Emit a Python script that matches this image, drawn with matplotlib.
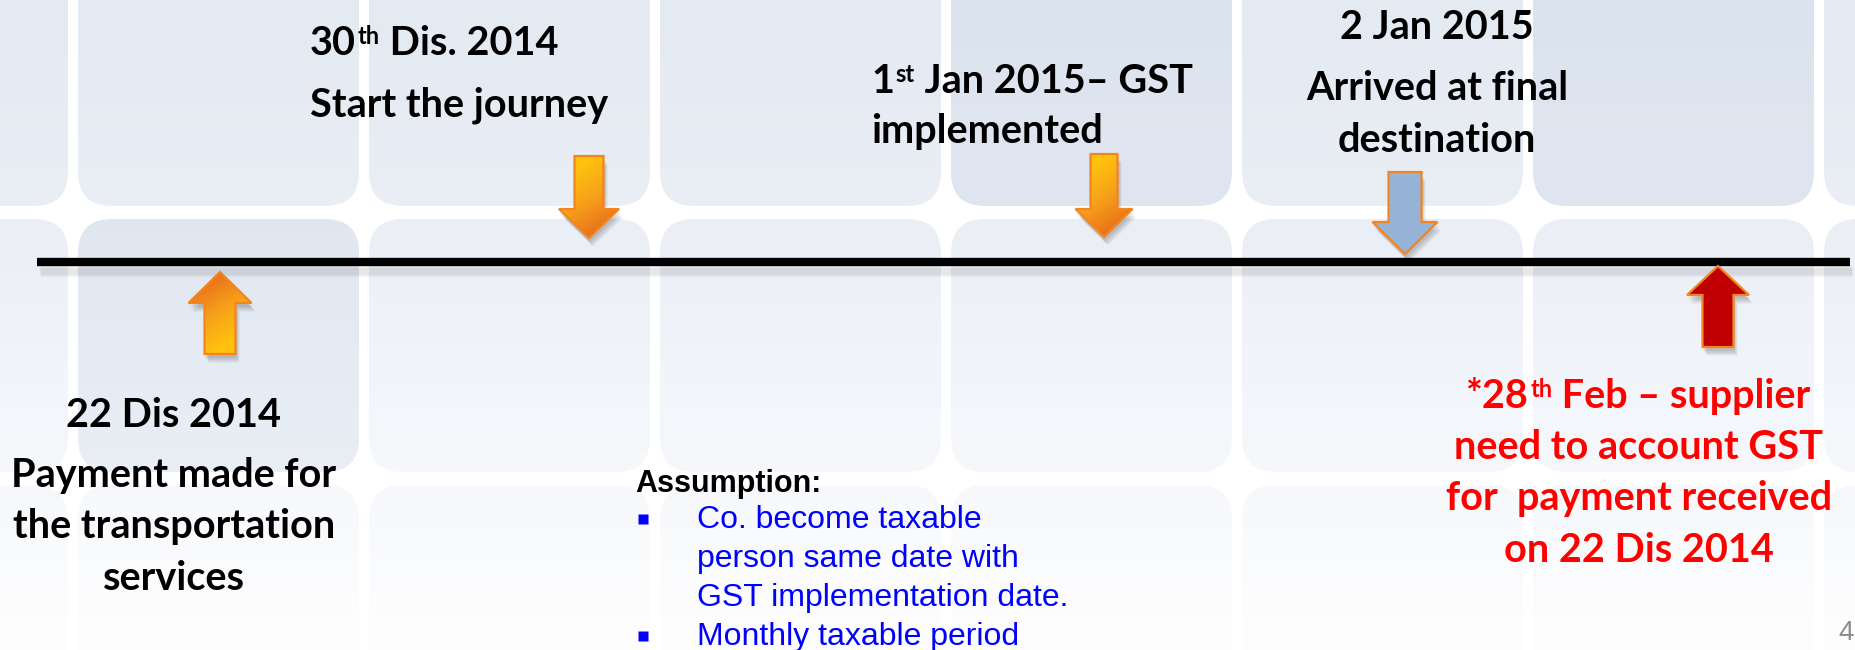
import numpy as np
import matplotlib as mpl
mpl.use('Agg')
import matplotlib.pyplot as plt
from matplotlib.patches import FancyBboxPatch, Polygon
from matplotlib.colors import LinearSegmentedColormap

# ---- content -------------------------------------------------------------
payment_lines = ["22 Dis 2014", "Payment made for", "the transportation", "services"]
journey_date = ("30", "th", " Dis. 2014")
journey_lines = ["Start the journey"]
gst_date = ("1", "st", " Jan 2015\u2013 GST")
gst_lines = ["implemented"]
arrive_lines = ["2 Jan 2015", "Arrived at final", "destination"]
supplier_date = ("*28", "th", " Feb \u2013 supplier")
supplier_lines = ["need to account GST", "for  payment received", "on 22 Dis 2014"]
assumption_title = "Assumption:"
assumption_items = [["Co. become taxable", "person same date with", "GST implementation date."],
                    ["Monthly taxable period"]]
page_no = "4"

# arrows: centre x, tail y, head base y, tip y, shaft width, head width
arrow_geo = [(220, 354, 303, 272, 31, 63),
             (589, 156, 209, 238, 29, 60),
             (1104, 154, 209, 237, 27, 57),
             (1405, 172, 222, 254, 33, 65),
             (1718, 347, 295, 266, 31, 62)]
arrow_fill = ['grad', 'grad', 'grad', '#95B3D7', '#C00000']

W, H = 1856, 650
fig = plt.figure(figsize=(W / 100, H / 100), dpi=100)
ax = fig.add_axes([0, 0, 1, 1])
ax.axis('off')

# ---- background tiles ----------------------------------------------------
tile_cols = [78 + 291 * k for k in range(-1, 7)]
tile_rows = [-47, 219, 485]
tw, th = 281, 253
dark_tiles = [(0, 4), (0, 6), (1, 1)]
bgmap = LinearSegmentedColormap.from_list('bg', ['#E4EAF2', '#EAEEF5', '#F3F6FA', '#FDFDFE'])
for r, y0 in enumerate(tile_rows):
    for c, x0 in enumerate(tile_cols):
        p = FancyBboxPatch((x0, y0), tw, th, boxstyle='round,pad=0,rounding_size=34',
                           fc='none', ec='none', zorder=1)
        ax.add_patch(p)
        g = np.clip(np.linspace(y0 / H, (y0 + th) / H, 64), 0, 1).reshape(-1, 1)
        im = ax.imshow(g, cmap=bgmap, vmin=0, vmax=0.95, extent=(x0, x0 + tw, y0 + th, y0),
                       aspect='auto', zorder=1, interpolation='bilinear')
        im.set_clip_path(p)
        if (r, c) in dark_tiles:
            ax.add_patch(FancyBboxPatch((x0, y0), tw, th, boxstyle='round,pad=0,rounding_size=34',
                                        fc='#BFCDE2', ec='none', alpha=0.22, zorder=2))

# ---- timeline ------------------------------------------------------------
for k in range(6):
    ax.plot([40, 1852], [267 + k * 1.6, 267 + k * 1.6], color='black', lw=2, alpha=0.05,
            solid_capstyle='butt', zorder=5)
ax.plot([37, 1850], [262, 262], color='black', lw=6, solid_capstyle='butt', zorder=6)

# ---- arrows --------------------------------------------------------------
orange = LinearSegmentedColormap.from_list('or', ['#FFC20E', '#F7A11A', '#E8711A'])
for (cx, tail, hb, tip, sw, hw), fill in zip(arrow_geo, arrow_fill):
    pts = np.array([(cx - sw / 2, tail), (cx - sw / 2, hb), (cx - hw / 2, hb), (cx, tip),
                    (cx + hw / 2, hb), (cx + sw / 2, hb), (cx + sw / 2, tail)])
    for k in range(4):
        ax.add_patch(Polygon(pts + [1 + k, 4 + k * 1.5], closed=True, fc='black', ec='none',
                             alpha=0.06, zorder=7))
    if fill == 'grad':
        poly = Polygon(pts, closed=True, fc='none', ec='#F5841F', lw=1.6, zorder=9)
        ax.add_patch(poly)
        s = 1 if tip > tail else -1
        xs = np.linspace(cx - hw / 2, cx + hw / 2, 60)
        ys = np.linspace(min(tail, tip), max(tail, tip), 80)
        X, Y = np.meshgrid(xs, ys)
        t = (Y - tail) / (tip - tail) + 0.45 * s * (X - cx) / hw
        im = ax.imshow(t, cmap=orange, vmin=0.05, vmax=1.0, zorder=8, aspect='auto',
                       extent=(xs[0], xs[-1], ys[-1], ys[0]), interpolation='bilinear')
        im.set_clip_path(poly)
    else:
        ax.add_patch(Polygon(pts, closed=True, fc=fill, ec='#F5841F', lw=1.6, zorder=9))

# ---- text ----------------------------------------------------------------
HEAD = dict(family='Lato', fontweight='bold', fontsize=28.5, zorder=10)


def sup_line(x, y, parts, color):
    base, sup, rest = parts
    t1 = ax.text(x, y, base, color=color, ha='left', va='baseline', **HEAD)
    t2 = ax.annotate(sup, xy=(1, 0), xycoords=t1, xytext=(1, 10), textcoords='offset points',
                     color=color, ha='left', va='bottom',
                     family='Lato', fontweight='bold', fontsize=17, zorder=10)
    ax.annotate(rest, xy=(1, 0), xycoords=(t2, t1), color=color, ha='left', va='bottom', **HEAD)


# 30th Dis. 2014
sup_line(310, 55, journey_date, 'black')
ax.text(310, 117, journey_lines[0], color='black', ha='left', va='baseline', **HEAD)

# 1st Jan 2015
sup_line(871, 93, gst_date, 'black')
ax.text(871, 143, gst_lines[0], color='black', ha='left', va='baseline', **HEAD)

# 2 Jan 2015
for yy, s in zip([39, 100, 152], arrive_lines):
    ax.text(1437, yy, s, color='black', ha='center', va='baseline', **HEAD)

# 22 Dis 2014
for yy, s in zip([427, 487, 538, 590], payment_lines):
    ax.text(174, yy, s, color='black', ha='center', va='baseline', **HEAD)

# 28th Feb
sup_line(1466, 408, supplier_date, '#FF0000')
for yy, s in zip([459, 510, 562], supplier_lines):
    ax.text(1639, yy, s, color='#FF0000', ha='center', va='baseline', **HEAD)

# assumption box
ax.text(635, 492, assumption_title, family='Liberation Sans', fontweight='bold',
        fontsize=22, color='black', ha='left', va='baseline', zorder=10)
yy = 528
for item in assumption_items:
    ax.plot([643], [yy - 9], marker='s', ms=6.5, color='#0000FF', mec='none', zorder=10)
    for s in item:
        ax.text(697, yy, s, family='Liberation Sans', fontsize=23, color='#0000FF',
                ha='left', va='baseline', zorder=10)
        yy += 39

ax.text(1838, 640, page_no, family='Liberation Sans', fontsize=20, color='#8C8C8C',
        ha='left', va='baseline', zorder=10)

ax.set_xlim(0, W)
ax.set_ylim(H, 0)
fig.savefig('out.png', dpi=100, facecolor='white')
